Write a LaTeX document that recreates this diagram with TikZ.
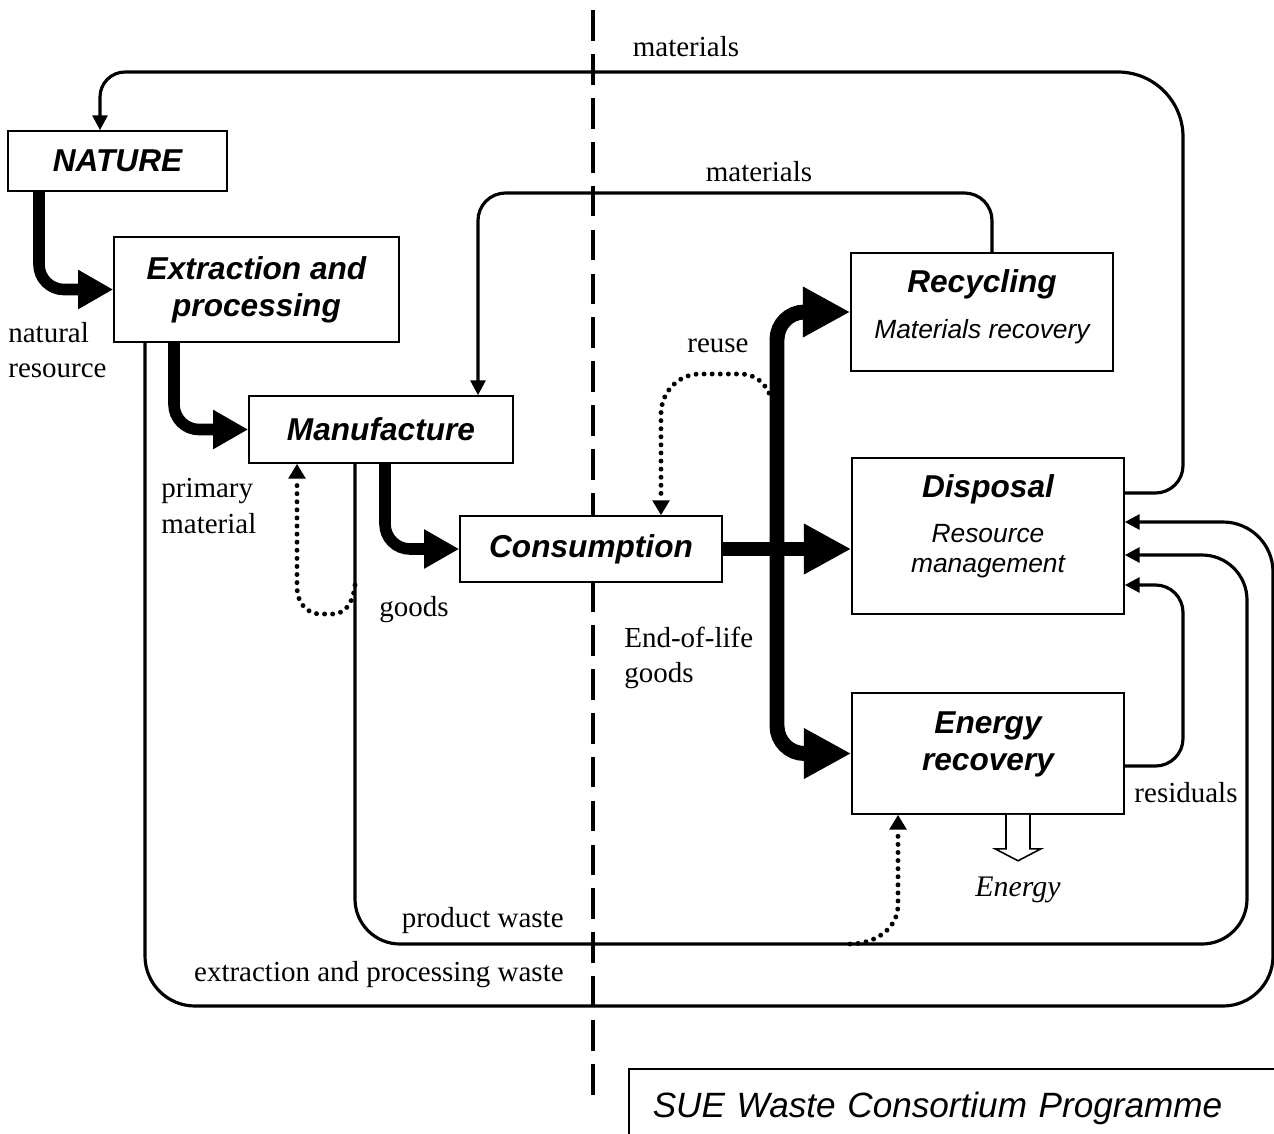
\documentclass[tikz,border=0pt]{standalone}
\usepackage{fontspec}
\setmainfont{Liberation Serif}
\setsansfont{Liberation Sans}
\usetikzlibrary{arrows.meta}
\newcommand{\boxtitle}{\sffamily\bfseries\itshape\fontsize{18}{21}\selectfont}
\newcommand{\boxsub}{\sffamily\mdseries\itshape\fontsize{15}{17}\selectfont}
\newcommand{\lblfont}{\rmfamily\fontsize{16.5}{20}\selectfont}

\begin{document}
\begin{tikzpicture}[x=0.02cm, y=-0.02cm,
		box/.style={draw, line width=0.9pt, fill=white, inner sep=0pt, align=center, font=\boxtitle},
		boxtext/.style={align=center, font=\boxtitle, inner sep=0pt},
		txt/.style={font=\lblfont, inner sep=0pt, align=left},
		flow/.style={line width=6.6pt, rounded corners=0.5cm, -{Triangle[length=20pt, width=21pt]}},
		bigflow/.style={line width=8.5pt, rounded corners=0.55cm, -{Triangle[length=27pt, width=27pt]}},
		link/.style={line width=1.8pt, -{Triangle[length=8.5pt, width=8.5pt]}},
		reuse/.style={line width=2.8pt, line cap=round, dash pattern=on 0pt off 4.6pt, -{Triangle[length=8.5pt, width=9.5pt]}},
		divider/.style={line width=2pt, dash pattern=on 17.5pt off 7.5pt}]
	\useasboundingbox (0,0) rectangle (1274,1133);
	\draw[divider] (593,10) -- (593,1095);
	% boxes
	\node[box, minimum width=4.38cm, minimum height=1.2cm] (nature) at (117.5,161) {NATURE};
	\node[box, minimum width=5.7cm, minimum height=2.1cm] (extract) at (256.5,289.5) {Extraction and\\processing};
	\node[box, minimum width=5.28cm, minimum height=1.34cm] (manuf) at (381,429.5) {Manufacture};
	\node[box, minimum width=5.24cm, minimum height=1.32cm] (consum) at (591,549) {Consumption};
	\node[box, minimum width=5.24cm, minimum height=2.36cm] (recyc) at (982,312) {};
	\node[box, minimum width=5.44cm, minimum height=3.12cm] (dispos) at (988,536) {};
	\node[box, minimum width=5.44cm, minimum height=2.42cm] (energy) at (988,753.5) {};
	\node[boxtext] (recyc-t) at ([yshift=3pt]recyc) {Recycling\\[5pt]{\boxsub Materials recovery}};
	\node[boxtext] (dispos-t) at ([yshift=5.5pt]dispos) {Disposal\\[5pt]{\boxsub Resource}\\[-4pt]{\boxsub management}};
	\node[boxtext] (energy-t) at ([yshift=5pt]energy) {Energy\\recovery};
	% main flows
	\draw[flow] (nature.south -| 39,0) |- (extract.west);
	\draw[flow] (extract.south -| 174,0) |- (manuf.west);
	\draw[flow] (manuf.south -| 385,0) |- (consum.west);
	\draw[bigflow] (consum.east) -- (consum.east -| dispos.west);
	\coordinate (split) at (777,549);
	\draw[bigflow] (split) |- (recyc.west);
	\draw[bigflow] (split) |- (energy.west);
	% returns
	\draw[link, rounded corners=0.55cm] (dispos.east |- 0,493) -| (1183,300) [rounded corners=1.3cm] |- (700,72) [rounded corners=0.5cm] -| (nature.north -| 100,0);
	\draw[link, rounded corners=0.55cm] (recyc.north -| 992,0) |- (700,193) -| (manuf.north -| 478,0);
	\draw[link, rounded corners=1cm] (extract.south -| 145,0) |- (700,1006) -| (1273,700) |- (dispos.east |- 0,522);
	\draw[link, rounded corners=0.9cm] (manuf.south -| 355,0) |- (700,944) -| (1247,700) |- (dispos.east |- 0,555);
	\draw[link, rounded corners=0.55cm] (energy.east |- 0,766) -| (1183,680) |- (dispos.east |- 0,585);
	% dotted
	\coordinate (bar) at (769,393);
	\coordinate (pw) at (355,585);
	\coordinate (pw2) at (850,944);
	\draw[reuse] (bar) to[out=115, in=0] (740,374) -- (700,374) to[out=180, in=90] (661,414) -- (consum.north -| 661,0);
	\draw[reuse] (pw) to[out=-95, in=0] (333,614) -- (320,614) to[out=180, in=-90] (297,588) -- (manuf.south -| 297,0);
	\draw[reuse] (pw2) to[out=0, in=-90] (898,905) -- (energy.south -| 898,0);
	% energy out
	\draw[line width=0.9pt, fill=white] (energy.south -| 1006,0) -- ++(0,34) -- ++(-11,0) -- ++(23,12) -- ++(23,-12) -- ++(-11,0) -- ++(0,-34);
	\node[font=\rmfamily\itshape\fontsize{17}{20}\selectfont] (energy-l) at (1018,890) {Energy};
	% labels
	\node[txt] (mat1) at (686,47) {materials};
	\node[txt] (mat2) at (759,172) {materials};
	\node[txt, anchor=west] (natres) at (8,350) {natural\\resource};
	\node[txt, anchor=west] (primat) at (161,506) {primary\\material};
	\node[txt] (goods) at (414,610) {goods};
	\node[txt, anchor=west] (eol) at (624,658) {End-of-life\\goods};
	\node[txt] (reuse-l) at (718,346) {reuse};
	\node[txt] (resid) at (1186,793) {residuals};
	\node[txt, anchor=east] (pwaste) at (564,921) {product waste};
	\node[txt, anchor=east] (ewaste) at (564,975) {extraction and processing waste};
	\node[draw, line width=0.9pt, anchor=north west, minimum height=1.6cm, text width=12.5cm, inner xsep=0.48cm, align=left, font=\sffamily\itshape\fontsize{20}{24}\selectfont] (sue) at (628,1068) {SUE Waste Consortium Programme};
\end{tikzpicture}
\end{document}
